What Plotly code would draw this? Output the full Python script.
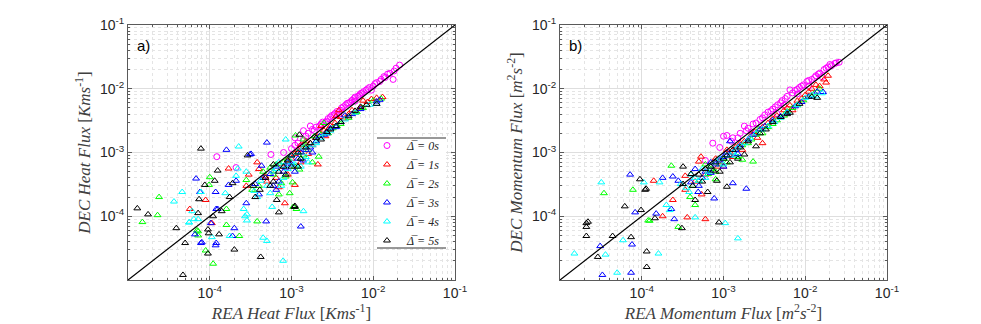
import plotly.graph_objects as go

# (REA, DEC) pairs, one list per averaging window
labels = ["0s", "1s", "2s", "3s", "4s", "5s"]
colors = ["#ff00ff", "#ff0000", "#00ff00", "#0000ff", "#00ffff", "#000000"]

heat_0s = [(1.0e-3, 1.15e-3), (1.2e-3, 1.4e-3), (1.4e-3, 1.6e-3), (1.6e-3, 2.0e-3), (1.7e-3, 2.6e-3),
           (1.9e-3, 2.2e-3), (2.2e-3, 2.6e-3), (2.4e-3, 3.0e-3), (2.6e-3, 3.0e-3), (2.8e-3, 3.4e-3),
           (3.0e-3, 3.6e-3), (3.3e-3, 3.9e-3), (3.6e-3, 4.4e-3), (4.0e-3, 4.6e-3), (4.3e-3, 5.2e-3),
           (4.6e-3, 5.6e-3), (5.0e-3, 6.0e-3), (5.5e-3, 6.6e-3), (6.0e-3, 7.4e-3), (6.5e-3, 7.6e-3),
           (7.0e-3, 8.4e-3), (7.6e-3, 9.0e-3), (8.2e-3, 9.6e-3), (9.0e-3, 1.05e-2), (1.0e-2, 1.1e-2),
           (1.1e-2, 1.25e-2), (1.25e-2, 1.4e-2), (1.4e-2, 1.5e-2), (1.6e-2, 1.75e-2), (1.75e-2, 1.4e-2),
           (2.1e-2, 2.35e-2), (1.5e-2, 1.7e-2), (1.3e-3, 1.25e-3), (8.0e-4, 1.0e-3), (2.1e-4, 5.8e-4),
           (1.22e-4, 8.6e-4), (5.6e-4, 9.3e-4), (6.0e-3, 6.4e-3), (3.8e-3, 4.0e-3), (9.5e-3, 9.5e-3),
           (1.1e-3, 1.3e-3), (1.5e-3, 1.8e-3), (1.8e-3, 2.3e-3), (2.0e-3, 2.5e-3), (2.3e-3, 2.8e-3),
           (2.7e-3, 3.1e-3), (3.1e-3, 3.8e-3), (3.4e-3, 4.1e-3), (4.1e-3, 5.0e-3), (4.8e-3, 5.9e-3),
           (5.3e-3, 6.2e-3), (5.8e-3, 7.0e-3), (6.8e-3, 8.0e-3), (7.3e-3, 8.6e-3), (8.6e-3, 1.0e-2),
           (1.05e-2, 1.2e-2), (1.2e-2, 1.3e-2), (1.35e-2, 1.55e-2), (1.8e-2, 1.9e-2), (1.9e-2, 2.1e-2),
           (1.1e-3, 1.7e-3), (1.4e-3, 2.2e-3)]
heat_1s = [(1.3e-2, 7.4e-3), (9.5e-3, 6.9e-3), (3.8e-3, 4.6e-3), (5.0e-3, 4.0e-3), (4.5e-3, 3.4e-3),
           (3.0e-3, 2.6e-3), (2.5e-3, 2.2e-3), (2.0e-3, 1.7e-3), (2.6e-3, 1.8e-3), (1.8e-3, 1.3e-3),
           (1.5e-3, 1.5e-3), (1.2e-3, 1.1e-3), (1.0e-3, 8.0e-4), (2.1e-3, 6.5e-4), (1.1e-3, 3.1e-4),
           (8.3e-4, 1.6e-4), (7.0e-4, 2.85e-4), (8.0e-4, 6.0e-4), (6.0e-4, 5.0e-4), (3.8e-4, 7.0e-4),
           (1.7e-4, 5.6e-4), (8.9e-5, 1.8e-4), (5.7e-5, 1.3e-4), (1.06e-4, 7.8e-5), (6.0e-3, 4.2e-3),
           (7.0e-3, 5.0e-3), (1.6e-3, 9.5e-4), (1.3e-3, 7.0e-4), (4.8e-4, 4.2e-4), (2.8e-4, 3.0e-4),
           (7.5e-3, 6.5e-3), (7.2e-4, 6.5e-4), (1.1e-3, 9.5e-4), (1.4e-3, 1.2e-3), (1.7e-3, 1.4e-3),
           (2.2e-3, 2.0e-3), (2.8e-3, 2.3e-3), (3.4e-3, 2.9e-3), (4.0e-3, 3.6e-3), (5.5e-3, 4.6e-3),
           (8.5e-3, 6.2e-3), (1.1e-2, 7.2e-3), (9.0e-4, 7.5e-4), (1.3e-3, 1.3e-3), (2.3e-3, 2.6e-3),
           (3.5e-3, 3.7e-3), (5.0e-4, 3.5e-4), (6.5e-4, 4.0e-4), (9.0e-4, 4.5e-4), (4.0e-4, 5.5e-4),
           (1.2e-3, 6.0e-4), (3.0e-4, 4.5e-4)]
heat_2s = [(1.5e-5, 8.1e-5), (2.3e-5, 1.04e-4), (2.4e-5, 2.0e-4), (9.8e-5, 3.1e-4), (1.0e-4, 4.1e-4),
           (7.2e-5, 5.8e-5), (7.2e-5, 5.0e-5), (8.9e-5, 2.9e-5), (1.1e-4, 1.8e-5), (2.3e-4, 4.9e-5),
           (1.6e-4, 7.3e-5), (1.6e-4, 1.3e-4), (2.8e-4, 3.7e-4), (3.8e-4, 8.3e-5), (1.15e-3, 1.3e-4),
           (9.5e-4, 2.3e-4), (1.03e-3, 3.4e-4), (2.15e-3, 8.6e-4), (1.25e-3, 5.4e-4), (1.12e-3, 1.85e-3),
           (1.4e-3, 1.6e-3), (6.3e-3, 4.3e-3), (1.25e-2, 7.0e-3), (3.2e-3, 2.4e-3), (2.0e-3, 1.5e-3),
           (1.6e-3, 1.1e-3), (8.0e-4, 7.0e-4), (6.0e-4, 4.5e-4), (4.5e-4, 5.0e-4), (2.5e-3, 2.9e-3),
           (4.0e-3, 2.8e-3), (1.8e-3, 7.0e-4), (7.0e-4, 2.2e-4), (7.0e-5, 6.0e-5), (1.05e-3, 1.4e-4),
           (9.0e-4, 8.0e-4), (1.2e-3, 1.0e-3), (1.5e-3, 1.3e-3), (1.9e-3, 1.8e-3), (2.3e-3, 1.9e-3),
           (2.8e-3, 2.0e-3), (3.6e-3, 2.6e-3), (5.0e-3, 3.5e-3), (7.5e-3, 5.0e-3), (1.0e-2, 6.5e-3),
           (1.3e-3, 8.0e-4), (1.1e-3, 6.0e-4), (6.5e-4, 6.5e-4), (4.0e-4, 3.0e-4), (5.5e-4, 5.8e-4),
           (8.5e-4, 4.2e-4), (3.3e-4, 2.6e-4), (1.4e-3, 9.0e-4), (7.5e-4, 3.3e-4)]
heat_3s = [(6.8e-5, 3.9e-4), (1.18e-4, 2.4e-4), (1.7e-4, 3.1e-4), (2.1e-4, 3.6e-4), (1.6e-4, 1.1e-3),
           (5.0e-4, 1.43e-3), (3.1e-4, 9.3e-4), (3.2e-4, 9.5e-4), (1.25e-4, 1.3e-4), (1.03e-4, 7.8e-5),
           (6.6e-5, 5.2e-5), (7.8e-5, 3.8e-5), (1.2e-4, 3.8e-5), (1.18e-4, 3.5e-5), (2.0e-4, 6.5e-5),
           (4.9e-4, 8.3e-5), (1.3e-3, 6.9e-5), (4.3e-4, 6.2e-4), (7.6e-5, 2.4e-4), (1.2e-4, 1.3e-4),
           (1.9e-4, 4.9e-5), (8.0e-5, 3.9e-5), (1.0e-3, 9.0e-4), (1.2e-3, 8.0e-4), (1.5e-3, 1.1e-3),
           (2.0e-3, 1.5e-3), (2.5e-3, 1.9e-3), (3.0e-3, 2.4e-3), (3.5e-3, 2.5e-3), (4.5e-3, 3.8e-3),
           (1.2e-2, 6.7e-3), (8.0e-4, 5.0e-4), (6.5e-4, 6.0e-4), (7.0e-4, 3.5e-4), (1.1e-3, 5.0e-4),
           (6.0e-4, 3.0e-4), (4.0e-4, 2.2e-4), (2.8e-4, 1.6e-4), (9.0e-4, 7.0e-4), (1.3e-3, 1.0e-3),
           (1.7e-3, 1.2e-3), (2.2e-3, 1.8e-3), (2.7e-3, 2.0e-3), (4.0e-3, 3.0e-3), (5.5e-3, 4.0e-3),
           (7.0e-3, 4.8e-3), (1.1e-2, 6.3e-3), (1.4e-3, 7.5e-4), (1.8e-3, 1.0e-3), (4.5e-4, 4.0e-4),
           (5.5e-4, 4.6e-4), (8.5e-4, 5.8e-4), (3.6e-4, 3.2e-4), (1.0e-3, 6.5e-4), (6.5e-4, 2.6e-4)]
heat_4s = [(3.65e-5, 1.7e-4), (4.6e-5, 2.4e-4), (2.26e-4, 1.24e-3), (8.5e-4, 1.6e-3), (7.8e-5, 2.4e-4),
           (1.55e-4, 2.3e-4), (2.1e-4, 4.3e-4), (6.1e-5, 1.2e-4), (5.6e-5, 8.0e-5), (6.4e-5, 9.0e-5),
           (7.2e-5, 9.0e-5), (1.06e-4, 4.7e-5), (1.75e-4, 4.9e-5), (2.6e-4, 1.3e-4), (2.85e-4, 1.07e-4),
           (2.85e-4, 8.6e-5), (4.5e-4, 4.6e-5), (5.0e-4, 4.1e-5), (7.9e-4, 2.0e-5), (5.8e-4, 1.4e-4),
           (1.4e-3, 1.2e-4), (1.0e-3, 9.0e-4), (1.5e-3, 8.5e-4), (1.6e-3, 7.0e-4), (2.0e-3, 1.4e-3),
           (3.0e-3, 2.2e-3), (9.0e-3, 5.6e-3), (6.0e-4, 5.0e-4), (5.0e-4, 3.0e-4), (8.0e-4, 4.0e-4),
           (3.5e-4, 2.5e-4), (2.2e-4, 5.6e-4), (2.8e-4, 5.0e-4), (2.7e-4, 1.0e-4), (5.6e-5, 8.0e-5),
           (1.2e-3, 1.0e-3), (1.4e-3, 1.2e-3), (1.8e-3, 1.3e-3), (2.3e-3, 1.7e-3), (2.6e-3, 2.0e-3),
           (3.5e-3, 2.6e-3), (4.5e-3, 3.3e-3), (6.0e-3, 4.2e-3), (1.1e-2, 5.8e-3), (7.0e-4, 7.0e-4),
           (1.1e-3, 6.5e-4), (9.0e-4, 5.5e-4), (1.3e-3, 6.0e-4), (4.2e-4, 3.6e-4), (6.5e-4, 5.5e-4),
           (8.0e-4, 6.2e-4), (1.0e-3, 7.0e-4), (3.8e-4, 2.0e-4), (5.5e-4, 2.3e-4), (7.5e-4, 3.0e-4)]
heat_5s = [(1.3e-5, 1.33e-4), (1.76e-5, 1.07e-4), (3.9e-5, 6.5e-5), (5.0e-5, 3.8e-5), (4.7e-5, 1.2e-5),
           (7.8e-5, 1.15e-3), (2.9e-4, 9.0e-4), (1.25e-4, 5.2e-4), (1.15e-4, 3.6e-4), (7.4e-5, 1.85e-4),
           (1.9e-4, 3.3e-4), (3.4e-4, 3.0e-4), (7.2e-5, 1.12e-4), (9.5e-5, 6.2e-5), (9.7e-5, 5.4e-5),
           (1.3e-4, 5.2e-5), (9.5e-5, 2.6e-5), (2.0e-4, 3.0e-5), (1.1e-4, 1.0e-4), (1.4e-4, 1.2e-4),
           (4.2e-4, 2.3e-5), (1.09e-3, 1.4e-4), (6.6e-4, 1.8e-4), (7.0e-4, 1.15e-4), (1.1e-3, 1.45e-4),
           (1.25e-3, 1.9e-3), (8.3e-3, 5.6e-3), (1.1e-2, 5.8e-3), (8.7e-5, 3.1e-4), (1.75e-4, 2.0e-4),
           (4.1e-4, 2.6e-4), (1.0e-3, 9.0e-4), (1.5e-3, 1.2e-3), (2.0e-3, 1.7e-3), (2.7e-3, 2.1e-3),
           (8.0e-4, 6.0e-4), (6.0e-4, 3.5e-4), (1.3e-3, 8.0e-4), (4.0e-3, 3.0e-3), (6.0e-3, 4.5e-3),
           (9.0e-4, 7.5e-4), (1.2e-3, 1.0e-3), (1.7e-3, 1.4e-3), (2.3e-3, 1.6e-3), (3.0e-3, 2.3e-3),
           (3.5e-3, 2.6e-3), (5.0e-3, 3.7e-3), (7.0e-3, 5.2e-3), (1.2e-3, 6.0e-4), (7.0e-4, 5.0e-4),
           (4.8e-4, 4.0e-4), (5.5e-4, 3.0e-4), (8.5e-4, 4.5e-4), (3.6e-4, 2.0e-4), (1.0e-3, 6.0e-4),
           (6.0e-4, 6.5e-4)]

mom_0s = [(7.4e-4, 1.4e-3), (1.1e-3, 1.85e-3), (1.0e-3, 1.8e-3), (1.5e-3, 1.7e-3), (2.0e-3, 2.4e-3),
          (2.5e-3, 2.9e-3), (3.0e-3, 3.5e-3), (3.5e-3, 4.3e-3), (4.0e-3, 4.8e-3), (4.6e-3, 5.6e-3),
          (5.2e-3, 6.5e-3), (6.0e-3, 7.6e-3), (6.5e-3, 9.6e-3), (7.5e-3, 9.4e-3), (8.5e-3, 1.05e-2),
          (9.5e-3, 1.15e-2), (1.05e-2, 1.3e-2), (1.2e-2, 1.4e-2), (1.35e-2, 1.6e-2), (1.5e-2, 1.75e-2),
          (1.7e-2, 2.0e-2), (1.9e-2, 2.2e-2), (2.1e-2, 2.3e-2), (2.3e-2, 2.5e-2), (2.6e-2, 2.6e-2),
          (1.25e-3, 1.5e-3), (2.2e-3, 2.1e-3), (5.5e-3, 5.5e-3), (8.0e-3, 8.3e-3), (1.1e-2, 1.1e-2),
          (1.6e-2, 1.55e-2), (6.0e-4, 7.5e-4), (4.5e-3, 4.1e-3), (1.8e-3, 2.6e-3), (1.3e-3, 1.7e-3),
          (1.6e-3, 2.0e-3), (2.3e-3, 2.8e-3), (2.8e-3, 3.3e-3), (3.2e-3, 3.9e-3), (3.8e-3, 4.5e-3),
          (4.3e-3, 5.2e-3), (5.0e-3, 6.0e-3), (5.7e-3, 7.0e-3), (7.0e-3, 8.6e-3), (8.0e-3, 9.8e-3),
          (9.0e-3, 1.1e-2), (1.1e-2, 1.35e-2), (1.3e-2, 1.5e-2), (1.45e-2, 1.7e-2), (1.8e-2, 2.1e-2),
          (2.0e-2, 2.4e-2), (2.4e-2, 2.55e-2), (9.0e-4, 1.2e-3), (1.9e-3, 2.2e-3)]
mom_1s = [(5.3e-4, 8.6e-4), (5.0e-4, 7.2e-4), (1.4e-4, 3.6e-4), (3.4e-4, 4.3e-4), (3.4e-4, 2.6e-4),
          (5.4e-4, 2.2e-4), (2.4e-4, 1.8e-4), (1.8e-4, 1.0e-4), (3.6e-4, 9.6e-5), (6.0e-4, 9.0e-5),
          (3.0e-3, 1.4e-3), (1.9e-2, 1.6e-2), (1.8e-2, 1.25e-2), (1.5e-2, 1.1e-2), (1.2e-2, 1.0e-2),
          (1.0e-2, 8.0e-3), (8.0e-3, 6.5e-3), (6.0e-3, 5.0e-3), (5.0e-3, 3.6e-3), (4.0e-3, 3.4e-3),
          (3.0e-3, 2.5e-3), (2.2e-3, 1.9e-3), (1.6e-3, 1.4e-3), (1.2e-3, 1.0e-3), (9.0e-4, 7.0e-4),
          (7.0e-4, 6.0e-4), (1.0e-3, 6.0e-4), (2.6e-3, 1.7e-3), (7.0e-3, 4.6e-3), (1.4e-3, 1.2e-3),
          (1.8e-3, 1.5e-3), (2.4e-3, 2.1e-3), (3.5e-3, 2.9e-3), (4.5e-3, 3.8e-3), (5.5e-3, 4.6e-3),
          (6.5e-3, 5.5e-3), (9.0e-3, 7.0e-3), (1.1e-2, 9.0e-3), (1.35e-2, 1.15e-2), (1.7e-2, 1.4e-2),
          (8.0e-4, 8.0e-4), (1.1e-3, 1.1e-3), (6.0e-4, 4.5e-4), (8.5e-4, 6.0e-4), (1.3e-3, 8.5e-4),
          (4.5e-4, 3.5e-4), (1.7e-3, 1.1e-3)]
mom_2s = [(3.45e-5, 2.3e-4), (7.8e-5, 2.6e-4), (1.2e-4, 8.6e-5), (1.25e-4, 8.5e-5), (2.3e-4, 6.2e-4),
          (3.9e-4, 2.0e-4), (4.5e-4, 1.5e-4), (2.8e-4, 6.8e-5), (2.3e-3, 7.2e-4), (1.7e-3, 7.7e-4),
          (1.2e-3, 9.0e-4), (2.0e-3, 1.4e-3), (3.0e-3, 2.0e-3), (4.0e-3, 2.8e-3), (5.5e-3, 3.8e-3),
          (8.0e-3, 5.5e-3), (1.1e-2, 7.5e-3), (1.5e-2, 1.0e-2), (6.0e-4, 6.5e-4), (8.0e-4, 5.0e-4),
          (5.0e-4, 3.6e-4), (6.0e-3, 4.4e-3), (2.7e-3, 2.3e-3), (1.0e-3, 8.0e-4), (1.4e-3, 1.1e-3),
          (1.7e-3, 1.3e-3), (2.2e-3, 1.6e-3), (2.5e-3, 1.9e-3), (3.5e-3, 2.5e-3), (4.5e-3, 3.2e-3),
          (7.0e-3, 5.0e-3), (9.5e-3, 6.6e-3), (1.3e-2, 8.5e-3), (7.0e-4, 5.5e-4), (9.0e-4, 6.5e-4),
          (6.5e-4, 4.6e-4), (1.1e-3, 7.0e-4), (1.5e-3, 8.5e-4), (4.2e-4, 3.0e-4), (8.0e-4, 3.8e-4)]
mom_3s = [(3.1e-5, 3.4e-5), (3.3e-5, 1.2e-5), (7.4e-5, 1.3e-5), (7.6e-5, 3.6e-5), (7.2e-5, 4.5e-4),
          (8.3e-5, 1.15e-4), (1.8e-4, 4.0e-4), (2.4e-4, 4.2e-4), (2.8e-4, 3.6e-4), (1.5e-4, 1.1e-4),
          (2.3e-4, 1.3e-4), (2.5e-4, 9.0e-5), (4.9e-4, 2.4e-4), (7.7e-4, 1.9e-4), (1.3e-3, 3.3e-4),
          (1.9e-3, 2.7e-4), (4.5e-4, 5.5e-4), (7.0e-4, 7.0e-4), (1.0e-3, 8.5e-4), (1.4e-3, 1.1e-3),
          (2.0e-3, 1.6e-3), (2.8e-3, 2.3e-3), (4.0e-3, 3.2e-3), (6.0e-3, 4.2e-3), (9.0e-3, 6.2e-3),
          (1.4e-2, 9.0e-3), (1.65e-2, 8.9e-3), (1.2e-3, 1.5e-3), (5.5e-4, 4.0e-4), (8.0e-4, 6.5e-4),
          (1.1e-3, 1.0e-3), (1.6e-3, 1.3e-3), (2.3e-3, 1.9e-3), (3.2e-3, 2.6e-3), (5.0e-3, 3.7e-3),
          (7.5e-3, 5.3e-3), (1.1e-2, 7.5e-3), (6.0e-4, 5.0e-4), (9.0e-4, 7.5e-4), (1.2e-3, 9.0e-4),
          (5.0e-4, 3.0e-4), (7.0e-4, 4.8e-4), (1.0e-3, 6.0e-4), (1.5e-3, 9.5e-4), (4.0e-4, 3.4e-4)]
mom_4s = [(1.5e-5, 2.6e-5), (3.2e-5, 3.4e-4), (3.6e-5, 2.5e-5), (5.0e-5, 1.3e-5), (5.9e-5, 4.2e-5),
          (1.06e-4, 3.4e-4), (1.65e-4, 3.4e-4), (2.0e-4, 1.5e-4), (2.2e-4, 1.25e-4), (4.5e-4, 9.6e-5),
          (1.05e-3, 7.8e-5), (1.5e-3, 4.5e-5), (1.6e-4, 2.6e-5), (3.0e-4, 3.2e-4), (4.0e-4, 4.5e-4),
          (5.5e-4, 5.5e-4), (7.0e-4, 6.0e-4), (9.0e-4, 8.0e-4), (1.3e-3, 1.0e-3), (1.8e-3, 1.4e-3),
          (2.5e-3, 2.0e-3), (3.5e-3, 2.6e-3), (5.0e-3, 3.5e-3), (1.0e-2, 7.2e-3), (1.6e-2, 8.5e-3),
          (1.35e-2, 7.6e-3), (3.5e-4, 2.8e-4), (6.0e-4, 4.0e-4), (8.0e-4, 7.0e-4), (1.1e-3, 9.0e-4),
          (1.5e-3, 1.2e-3), (2.1e-3, 1.7e-3), (3.0e-3, 2.3e-3), (4.2e-3, 3.0e-3), (6.0e-3, 4.3e-3),
          (8.0e-3, 5.6e-3), (1.2e-2, 8.0e-3), (4.5e-4, 4.0e-4), (5.0e-4, 3.6e-4), (6.5e-4, 5.0e-4),
          (1.0e-3, 6.5e-4), (1.4e-3, 9.0e-4), (3.8e-4, 2.4e-4)]
mom_5s = [(2.1e-5, 7.8e-5), (2.1e-5, 6.8e-5), (2.2e-5, 8.2e-5), (2.1e-5, 4.9e-5), (2.9e-5, 2.3e-5),
          (4.4e-5, 4.9e-5), (6.2e-5, 1.43e-4), (7.4e-5, 4.7e-5), (9.5e-5, 3.8e-4), (1.1e-4, 2.6e-4),
          (9.8e-5, 1.25e-4), (1.15e-4, 2.8e-5), (1.15e-4, 1.6e-5), (1.13e-4, 2.7e-4), (3.2e-4, 6.0e-4),
          (3.2e-4, 3.2e-4), (4.5e-4, 1.8e-4), (6.4e-4, 2.4e-4), (8.3e-4, 3.6e-4), (1.1e-3, 2.9e-4),
          (8.8e-4, 8.0e-5), (1.45e-4, 9.3e-5), (3.1e-4, 6.5e-5), (4.0e-4, 4.6e-4), (6.0e-4, 5.5e-4),
          (8.0e-4, 7.0e-4), (1.1e-3, 9.0e-4), (1.6e-3, 1.2e-3), (2.5e-3, 1.25e-3), (1.8e-3, 9.3e-4),
          (3.3e-3, 2.3e-3), (5.0e-3, 3.6e-3), (6.5e-3, 4.2e-3), (1.4e-2, 7.2e-3), (9.0e-4, 5.0e-4),
          (7.0e-4, 6.0e-4), (1.0e-3, 8.0e-4), (1.3e-3, 1.1e-3), (2.0e-3, 1.5e-3), (2.8e-3, 2.0e-3),
          (4.0e-3, 3.0e-3), (6.0e-3, 4.0e-3), (8.5e-3, 5.8e-3), (1.2e-2, 7.5e-3), (5.0e-4, 4.5e-4),
          (5.5e-4, 3.5e-4), (7.5e-4, 5.2e-4), (1.2e-3, 7.0e-4), (1.5e-3, 8.0e-4), (4.2e-4, 3.0e-4)]

heat_series = [heat_0s, heat_1s, heat_2s, heat_3s, heat_4s, heat_5s]
mom_series = [mom_0s, mom_1s, mom_2s, mom_3s, mom_4s, mom_5s]

one_to_one = [1e-5, 1e-1]
tick_vals = [1e-4, 1e-3, 1e-2, 1e-1]
tick_text = ["10<sup>-4</sup>", "10<sup>-3</sup>", "10<sup>-2</sup>", "10<sup>-1</sup>"]

# the page body keeps its default 8px margin, so the figure is 8px smaller
W, H = 973, 316
OFF = 8


def px(x):
    return (x - OFF) / W


def py(y):
    return 1 - (y - OFF) / H


fig = go.Figure()

for panel, series in [("", heat_series), ("2", mom_series)]:
    for i, pts in enumerate(series):
        symbol = "circle-open" if i == 0 else "triangle-up-open"
        fig.add_trace(go.Scatter(
            x=[p[0] for p in pts], y=[p[1] for p in pts],
            mode="markers", xaxis="x" + panel, yaxis="y" + panel,
            name="<i>Δ̅\u00a0=\u00a0" + labels[i] + "</i>",
            showlegend=(panel == ""),
            marker=dict(symbol=symbol, size=6, color=colors[i],
                        line=dict(width=1, color=colors[i])),
        ))
    fig.add_trace(go.Scatter(x=one_to_one, y=one_to_one, mode="lines",
                             xaxis="x" + panel, yaxis="y" + panel,
                             line=dict(color="black", width=1.2), showlegend=False))

grid_major = "#dedede"
grid_minor = "#e4e4e4"
axis_common = dict(
    type="log", range=[-5, -1], tickmode="array", tickvals=tick_vals, ticktext=tick_text,
    automargin=False,
    showgrid=True, gridcolor=grid_major, gridwidth=1,
    showline=True, linecolor="#5a5a5a", linewidth=1, mirror="allticks",
    ticks="inside", ticklen=4, tickcolor="#5a5a5a",
    minor=dict(dtick="D1", showgrid=True, gridcolor=grid_minor, griddash="dot",
               ticks="inside", ticklen=2, tickcolor="#5a5a5a"),
    zeroline=False,
    tickfont=dict(family="Liberation Sans, Arial", size=14, color="#262626"),
    title_font=dict(family="Liberation Serif, Times New Roman", size=17, color="#404040"),
)

ydom = [py(280), py(25)]
fig.update_layout(
    width=W, height=H,
    margin=dict(l=0, r=0, t=0, b=0, autoexpand=False),
    paper_bgcolor="white", plot_bgcolor="white",
    xaxis=dict(axis_common, domain=[px(128), px(455)], anchor="y",
               title=dict(text="<i>REA Heat Flux</i> [<i>Kms</i><sup>-1</sup>]", standoff=2)),
    yaxis=dict(axis_common, domain=ydom, anchor="x",
               title=dict(text="<i>DEC Heat Flux</i> [<i>Kms</i><sup>-1</sup>]", standoff=4)),
    xaxis2=dict(axis_common, domain=[px(560), px(887)], anchor="y2",
                title=dict(text="<i>REA Momentum Flux</i> [<i>m</i><sup>2</sup><i>s</i><sup>-2</sup>]", standoff=2)),
    yaxis2=dict(axis_common, domain=ydom, anchor="x2",
                title=dict(text="<i>DEC Momentum Flux</i> [<i>m</i><sup>2</sup><i>s</i><sup>-2</sup>]", standoff=4)),
    legend=dict(x=px(367), y=py(131), xanchor="left", yanchor="top",
                bgcolor="rgba(0,0,0,0)", borderwidth=0, itemwidth=30, tracegroupgap=0,
                font=dict(family="Liberation Serif, Times New Roman", size=12, color="#262626")),
    annotations=[
        dict(text="a)", xref="x domain", yref="y domain", x=0.02, y=0.96, showarrow=False,
             xanchor="left", yanchor="top", font=dict(family="Liberation Sans, Arial", size=15, color="black")),
        dict(text="b)", xref="x2 domain", yref="y2 domain", x=0.02, y=0.96, showarrow=False,
             xanchor="left", yanchor="top", font=dict(family="Liberation Sans, Arial", size=15, color="black")),
    ],
    shapes=[
        # legend box: white panel with rules above and below
        dict(type="rect", xref="paper", yref="paper", x0=px(377), x1=px(446),
             y0=py(248), y1=py(138), fillcolor="white", line=dict(width=0), layer="above"),
        dict(type="line", xref="paper", yref="paper", x0=px(377), x1=px(446),
             y0=py(138), y1=py(138), line=dict(color="#333", width=1)),
        dict(type="line", xref="paper", yref="paper", x0=px(377), x1=px(446),
             y0=py(248), y1=py(248), line=dict(color="#333", width=1)),
    ],
)

fig.write_html("out.html")
